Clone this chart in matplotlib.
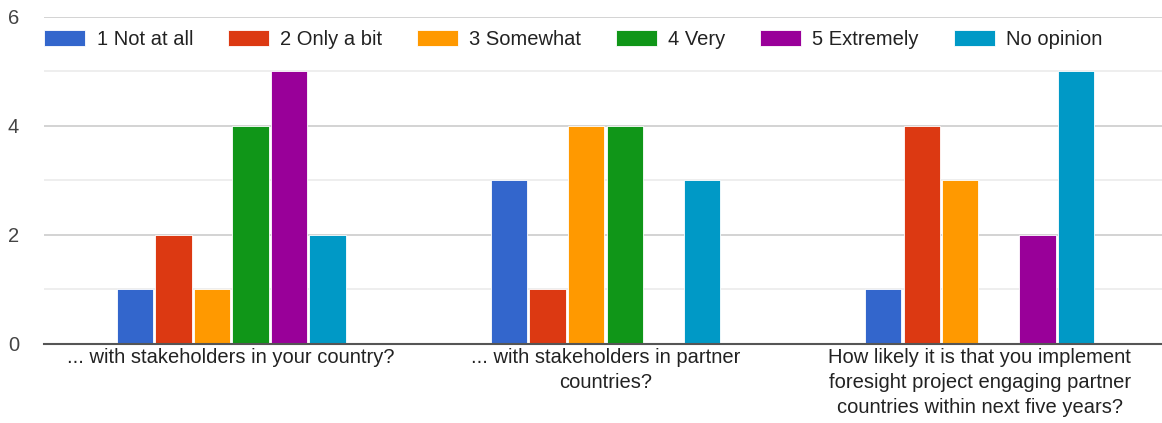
import numpy as np
import matplotlib as mpl
mpl.use('agg')
import matplotlib.pyplot as plt

# data
categories = ['... with stakeholders in your country?',
              '... with stakeholders in partner\ncountries?',
              'How likely it is that you implement\nforesight project engaging partner\ncountries within next five years?']
series = ['1 Not at all', '2 Only a bit', '3 Somewhat', '4 Very', '5 Extremely', 'No opinion']
values = [
    [1, 3, 1],   # 1 Not at all
    [2, 1, 4],   # 2 Only a bit
    [1, 4, 3],   # 3 Somewhat
    [4, 4, 0],   # 4 Very
    [5, 0, 2],   # 5 Extremely
    [2, 3, 5],   # No opinion
]
colors = ['#3366cc', '#dc3912', '#ff9900', '#109618', '#990099', '#0099c6']

plt.rcParams['font.family'] = ['Liberation Sans', 'DejaVu Sans']

fig = plt.figure(figsize=(11.62, 4.23), dpi=100)
ax = fig.add_axes([0.038, 0.187, 0.966, 0.773])

x = np.arange(len(categories))
step = 0.103
width = 0.097
for i, (name, vals) in enumerate(zip(series, values)):
    ax.bar(x + (i - 2.5) * step, vals, width, color=colors[i], label=name,
           zorder=3, edgecolor='white', linewidth=0.6)

ax.set_xlim(-0.5, 2.5)
ax.set_ylim(0, 6)
ax.set_yticks([0, 2, 4, 6])
ax.set_yticks([1, 3, 5], minor=True)
ax.grid(axis='y', which='major', color='#cccccc', linewidth=1.2, zorder=0)
ax.grid(axis='y', which='minor', color='#ebebeb', linewidth=1.2, zorder=0)
ax.tick_params(axis='y', which='both', length=0, labelsize=14.5, labelcolor='#444444', pad=18)
ax.set_xticks(x)
ax.set_xticklabels(categories, fontsize=14.5, color='#222222', linespacing=1.4)
ax.tick_params(axis='x', length=0, pad=3)

for s in ['top', 'right', 'left']:
    ax.spines[s].set_visible(False)
ax.spines['bottom'].set_color('#555555')
ax.spines['bottom'].set_linewidth(1.5)
ax.spines['bottom'].set_zorder(4)

leg = ax.legend(ncol=6, loc='center left', bbox_to_anchor=(0.0, 0.93),
                frameon=False, fontsize=14.5, handlelength=2.05, handleheight=0.85,
                handletextpad=0.55, columnspacing=1.72, borderaxespad=0, borderpad=0)
for t in leg.get_texts():
    t.set_color('#222222')

fig.savefig('out.png', dpi=100)
